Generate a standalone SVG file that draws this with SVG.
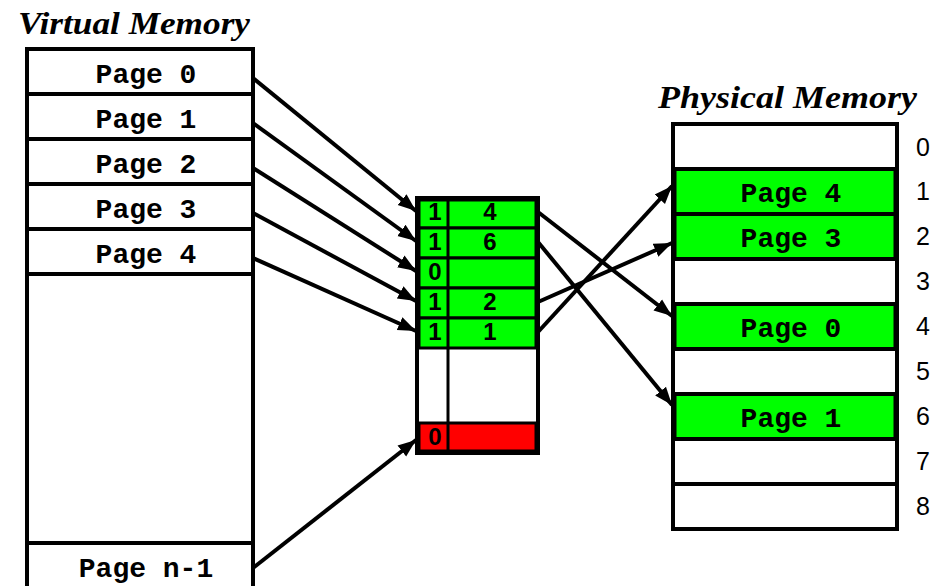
<svg xmlns="http://www.w3.org/2000/svg" width="936" height="586" viewBox="0 0 936 586">
<style>
.box{fill:#fff;stroke:#000;stroke-width:4}
.g{fill:#00ff00;stroke:#000;stroke-width:3}
.r{fill:#ff0000;stroke:#000;stroke-width:3}
.mono{font-family:"Liberation Mono","Courier New",monospace;font-weight:bold;font-size:28px;text-anchor:middle;fill:#000}
.num{font-family:"Liberation Sans",Arial,sans-serif;font-size:25px;fill:#000}
.title{font-family:"Liberation Serif","Times New Roman",serif;font-weight:bold;font-style:italic;font-size:31px;fill:#000}
.conn line{stroke:#000;stroke-width:4;marker-end:url(#ah)}
</style>
<defs>
<marker id="ah" markerUnits="userSpaceOnUse" markerWidth="20" markerHeight="16" viewBox="0 0 20 16" refX="18" refY="8" orient="auto">
<path d="M0,1 L18,8 L0,15 Z" fill="#000"/>
</marker>
</defs>
<rect width="936" height="586" fill="#fff"/>

<g id="virtual-memory">
<text class="title" x="18" y="34" textLength="232" lengthAdjust="spacingAndGlyphs">Virtual Memory</text>
<rect class="box" x="27" y="49" width="226" height="560"/>
<g stroke="#000" stroke-width="4">
<line x1="27" y1="94" x2="253" y2="94"/>
<line x1="27" y1="139" x2="253" y2="139"/>
<line x1="27" y1="184" x2="253" y2="184"/>
<line x1="27" y1="229" x2="253" y2="229"/>
<line x1="27" y1="274" x2="253" y2="274"/>
<line x1="27" y1="543" x2="253" y2="543"/>
</g>
<text class="mono" x="146" y="83">Page 0</text>
<text class="mono" x="146" y="128">Page 1</text>
<text class="mono" x="146" y="173">Page 2</text>
<text class="mono" x="146" y="218">Page 3</text>
<text class="mono" x="146" y="263">Page 4</text>
<text class="mono" x="146" y="577">Page n-1</text>
</g>

<g id="page-table">
<rect class="box" x="417" y="198" width="121" height="255"/>
<rect class="g" x="419" y="200" width="117" height="28"/>
<rect class="g" x="419" y="228" width="117" height="30"/>
<rect class="g" x="419" y="258" width="117" height="30"/>
<rect class="g" x="419" y="288" width="117" height="30"/>
<rect class="g" x="419" y="318" width="117" height="30"/>
<rect class="r" x="419" y="423" width="117" height="28"/>
<line x1="448" y1="198" x2="448" y2="453" stroke="#000" stroke-width="3"/>
<rect x="417" y="198" width="121" height="255" fill="none" stroke="#000" stroke-width="4"/>
<g font-family="'Liberation Sans', Arial, sans-serif" font-weight="bold" font-size="24" text-anchor="middle" fill="#000">
<text x="435" y="220">1</text><text x="490" y="220">4</text>
<text x="435" y="250">1</text><text x="490" y="250">6</text>
<text x="435" y="280">0</text>
<text x="435" y="310">1</text><text x="490" y="310">2</text>
<text x="435" y="340">1</text><text x="490" y="340">1</text>
<text x="435" y="445">0</text>
</g>
</g>

<g id="physical-memory">
<text class="title" x="658" y="108" textLength="259" lengthAdjust="spacingAndGlyphs">Physical Memory</text>
<rect class="box" x="673" y="124" width="224" height="405"/>
<rect class="g" x="675" y="169" width="220" height="45"/>
<rect class="g" x="675" y="214" width="220" height="45"/>
<rect class="g" x="675" y="304" width="220" height="45"/>
<rect class="g" x="675" y="394" width="220" height="45"/>
<g stroke="#000" stroke-width="4">
<line x1="673" y1="169" x2="897" y2="169"/>
<line x1="673" y1="214" x2="897" y2="214"/>
<line x1="673" y1="259" x2="897" y2="259"/>
<line x1="673" y1="304" x2="897" y2="304"/>
<line x1="673" y1="349" x2="897" y2="349"/>
<line x1="673" y1="394" x2="897" y2="394"/>
<line x1="673" y1="439" x2="897" y2="439"/>
<line x1="673" y1="484" x2="897" y2="484"/>
</g>
<rect x="673" y="124" width="224" height="405" fill="none" stroke="#000" stroke-width="4"/>
<text class="mono" x="791" y="202">Page 4</text>
<text class="mono" x="791" y="247">Page 3</text>
<text class="mono" x="791" y="337">Page 0</text>
<text class="mono" x="791" y="427">Page 1</text>
<text class="num" x="916" y="156">0</text>
<text class="num" x="916" y="200">1</text>
<text class="num" x="916" y="245">2</text>
<text class="num" x="916" y="290">3</text>
<text class="num" x="916" y="335">4</text>
<text class="num" x="916" y="380">5</text>
<text class="num" x="916" y="425">6</text>
<text class="num" x="916" y="470">7</text>
<text class="num" x="916" y="515">8</text>
</g>

<g id="connectors" class="conn">
<line x1="253" y1="78" x2="416" y2="211"/>
<line x1="253" y1="123" x2="416" y2="241"/>
<line x1="253" y1="168" x2="416" y2="271"/>
<line x1="253" y1="213" x2="416" y2="301"/>
<line x1="253" y1="258" x2="416" y2="331"/>
<line x1="253" y1="568" x2="416" y2="440"/>
<line x1="538" y1="212" x2="672" y2="316"/>
<line x1="538" y1="242" x2="672" y2="405"/>
<line x1="538" y1="302" x2="672" y2="243"/>
<line x1="538" y1="332" x2="672" y2="186"/>
</g>
</svg>
